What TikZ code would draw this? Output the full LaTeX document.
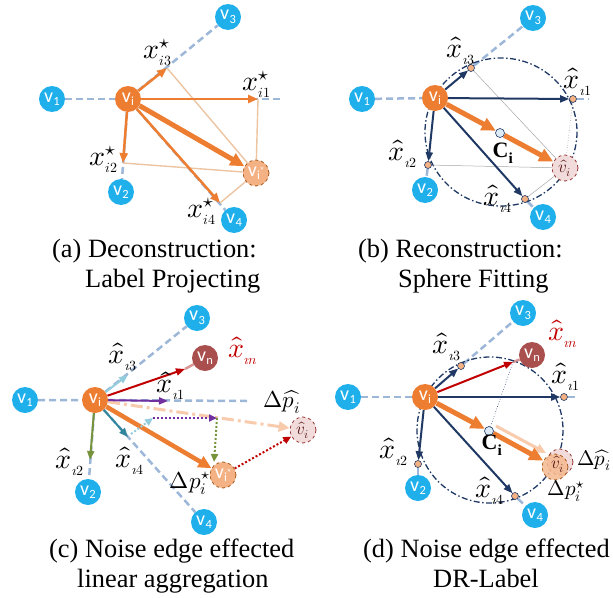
\documentclass[tikz,border=0pt]{standalone}
\usepackage{fontspec}
\usepackage{unicode-math}
\setmainfont{Liberation Serif}
\setmathfont{Latin Modern Math}
\newfontfamily\nodefont{Carlito}
\usetikzlibrary{arrows.meta,calc}
\pgfdeclarelayer{bg}
\pgfdeclarelayer{mid}
\pgfsetlayers{bg,mid,main}
\definecolor{nblue}{HTML}{1FB0EC}
\definecolor{orng}{HTML}{ED7D31}
\definecolor{lorng}{HTML}{F4B183}
\definecolor{dorng}{HTML}{A65A1E}
\definecolor{peach}{HTML}{F8CBAD}
\definecolor{thinp}{HTML}{EDC4A2}
\definecolor{navy}{HTML}{1F3864}
\definecolor{lblue}{HTML}{9DB7D8}
\definecolor{pinkf}{HTML}{F2DCDB}
\definecolor{dred}{HTML}{953735}
\definecolor{vnc}{HTML}{A9504E}
\definecolor{myred}{HTML}{C00000}
\definecolor{mypurple}{HTML}{7030A0}
\definecolor{myteal}{HTML}{31859C}
\definecolor{mygreen}{HTML}{77933C}
\definecolor{skyb}{HTML}{93CDDD}
\definecolor{pinkl}{HTML}{D99694}
\definecolor{cfill}{HTML}{DDEBF7}
\newcommand\vlab[1]{{\fontsize{20}{20}\selectfont v\kern0.3pt\raisebox{-3.5pt}{\fontsize{12.5}{12.5}\selectfont #1}}}
\newcommand\vst{{\fontsize{20}{20}\selectfont v\kern0.3pt\raisebox{-3.5pt}{\fontsize{12.5}{12.5}\selectfont i}\raisebox{6pt}{\fontsize{8}{8}\selectfont$\star$}}}
\newcommand\xh[1]{$\hat{x}_{\scriptscriptstyle #1}$}
\newcommand\xs[1]{$x^{\star}_{\scriptscriptstyle #1}$}
\tikzset{
  vnode/.style={circle, fill=nblue, minimum size=26pt, inner sep=0pt, text=white, font=\nodefont},
  inode/.style={vnode, fill=orng},
  nnode/.style={vnode, fill=vnc},
  snode/.style={circle, fill=lorng, draw=dorng, dashed, line width=0.8pt, minimum size=26pt, inner sep=0pt, text=white, font=\nodefont},
  hnode/.style={circle, fill=pinkf, draw=dred, dashed, line width=0.8pt, minimum size=26pt, inner sep=0pt, text=dred!60!black, font=\fontsize{17}{17}\selectfont},
  pnode/.style={circle, fill=lorng, draw=navy, line width=0.6pt, minimum size=7pt, inner sep=0pt},
  cnode/.style={circle, fill=cfill, draw=navy, line width=0.6pt, minimum size=9pt, inner sep=0pt},
  gline/.style={lblue, line width=2.5pt, dash pattern=on 7pt off 4pt},
  thinl/.style={thinp, line width=1.4pt},
  grayl/.style={gray!70, line width=0.5pt},
  narr/.style={navy, line width=2pt, -{Triangle[length=9pt,width=7pt]}},
  oarr/.style={orng, line width=2.5pt, -{Triangle[length=10pt,width=8pt]}},
  obig/.style={orng, line width=5pt, -{Triangle[length=14pt,width=13pt]}},
  carr/.style={line width=2pt, -{Triangle[length=9pt,width=7pt]}},
  darr/.style={line width=2pt, dotted, -{Triangle[length=8pt,width=7pt]}},
  ddc/.style={navy, line width=1.3pt, dash pattern=on 6pt off 2.5pt on 1.5pt off 2.5pt},
  lab/.style={font=\fontsize{28}{28}\selectfont, inner sep=0pt},
  dlab/.style={font=\fontsize{23}{23}\selectfont, inner sep=0pt},
  captxt/.style={font=\fontsize{26.4}{30}\selectfont, inner sep=0pt, anchor=base west}
}
\begin{document}
\begin{tikzpicture}[x=1pt,y=-1pt]
\useasboundingbox (0,0) rectangle (613,597);
% ================= (a) =================
\node[vnode] (a1) at (52,99) {\vlab{1}};
\node[inode] (ai) at (128,99) {\vlab{i}};
\node[vnode] (a3) at (228,17) {\vlab{3}};
\node[vnode] (a2) at (121,192) {\vlab{2}};
\node[vnode] (a4) at (234,220) {\vlab{4}};
\node[snode] (as) at (256,173) {\vst};
\coordinate (ap1) at (258,99);
\coordinate (ap3) at (167,68);
\coordinate (ap2) at (123,163);
\coordinate (ap4) at (220,203);
\coordinate (ae1) at (281,99);
\begin{pgfonlayer}{bg}
\draw[gline] (a1) -- (ai) -- (ae1);
\draw[gline] (ai) -- (a3);
\draw[gline] (ai) -- (a2);
\draw[gline] (ai) -- (a4);
\draw[thinl] (ap3) -- (as);
\draw[thinl] (ap1) -- (as);
\draw[thinl] (ap2) -- (as);
\draw[thinl] (ap4) -- (as);
\end{pgfonlayer}
\begin{pgfonlayer}{mid}
\draw[oarr] (ai) -- (ap3);
\draw[oarr] (ai) -- (ap1);
\draw[oarr] (ai) -- (ap2);
\draw[oarr] (ai) -- (ap4);
\draw[obig] (ai) -- (as);
\end{pgfonlayer}
\node[lab] (la3) at (158,52) {\xs{i3}};
\node[lab] (la1) at (257,84) {\xs{i1}};
\node[lab] (la2) at (104,159) {\xs{i2}};
\node[lab] (la4) at (202,211) {\xs{i4}};
\node[captxt] (ca1) at (52,257) {(a) Deconstruction:};
\node[captxt] (ca2) at (85,287) {Label Projecting};
% ================= (b) =================
\node[vnode] (b1) at (362,99) {\vlab{1}};
\node[inode] (bi) at (435,98) {\vlab{i}};
\node[vnode] (b3) at (533,18) {\vlab{3}};
\node[vnode] (b2) at (425,190) {\vlab{2}};
\node[vnode] (b4) at (543,217) {\vlab{4}};
\node[hnode] (bh) at (565,168) {$\hat{v}_i$};
\node[cnode] (bc) at (500,133) {};
\node[pnode] (bp3) at (471,68) {};
\node[pnode] (bp1) at (573,99) {};
\node[pnode] (bp2) at (428,165) {};
\node[pnode] (bp4) at (525,199) {};
\coordinate (be1) at (588,99);
\begin{pgfonlayer}{bg}
\draw[gline] (b1) -- (bi);
\draw[gline] (bp1) -- (be1);
\draw[gline] (bp3) -- (b3);
\draw[gline] (bp2) -- (b2);
\draw[gline] (bp4) -- (b4);
\draw[ddc] (501,132) ellipse[x radius=76, y radius=74];
\draw[grayl] (bp3) -- (bh);
\draw[grayl, dotted, line width=0.8pt] (bp1) -- (bh);
\draw[grayl] (bp2) -- (bh);
\draw[grayl] (bp4) -- (bh);
\end{pgfonlayer}
\begin{pgfonlayer}{mid}
\draw[narr] (bi) -- (bp3);
\draw[narr] (bi) -- (bp1);
\draw[narr] (bi) -- (bp2);
\draw[narr] (bi) -- (bp4);
\draw[obig] (bi) -- (bc);
\draw[obig] (bc) -- (bh);
\end{pgfonlayer}
\node[lab] (lb3) at (461,51) {\xh{\imath3}};
\node[lab] (lb1) at (578,82) {\xh{\imath1}};
\node[lab] (lb2) at (403,154) {\xh{\imath2}};
\node[lab] (lb4) at (498,199) {\xh{\imath4}};
\node[lab, font=\fontsize{22}{22}\selectfont] (lbc) at (503,153) {$\mathbf{C}_{\mathbf{i}}$};
\node[captxt] (cb1) at (358,257) {(b) Reconstruction:};
\node[captxt] (cb2) at (398,287) {Sphere Fitting};
% ================= (c) =================
\node[vnode] (c1) at (25,400) {\vlab{1}};
\node[inode] (ci) at (95,400) {\vlab{i}};
\node[vnode] (c3) at (197,318) {\vlab{3}};
\node[nnode] (cn) at (205,358) {\vlab{n}};
\node[vnode] (c2) at (88,492) {\vlab{2}};
\node[vnode] (c4) at (204,522) {\vlab{4}};
\node[snode] (cs) at (223,475) {\vst};
\node[hnode] (ch) at (303,430) {$\hat{v}_i$};
\coordinate (ce3) at (128,375);
\coordinate (cen) at (185,369);
\coordinate (ce1) at (168,401);
\coordinate (ce4) at (128,437);
\coordinate (ce2) at (90,460);
\coordinate (cx1) at (247,401);
\coordinate (cq1) at (131,434);
\coordinate (cq2) at (153,418);
\coordinate (cq3) at (217,418);
\coordinate (cq4) at (214,462);
\begin{pgfonlayer}{bg}
\draw[gline] (c1) -- (ci) -- (cx1);
\draw[gline] (ci) -- (c3);
\draw[gline] (ci) -- (c4);
\draw[gline] (ci) -- (c2);
\draw[pinkl, line width=2.5pt] (cen) -- (cn);
\end{pgfonlayer}
\begin{pgfonlayer}{mid}
\draw[peach, line width=3pt, dash pattern=on 12pt off 4pt on 3pt off 4pt, -{Triangle[length=11pt,width=10pt]}] (ci) -- (ch);
\draw[carr, skyb] (ci) -- (ce3);
\draw[carr, myred] (ci) -- (cen);
\draw[carr, mypurple] (ci) -- (ce1);
\draw[carr, myteal] (ci) -- (ce4);
\draw[carr, mygreen] (ci) -- (ce2);
\draw[orng, line width=4.5pt, -{Triangle[length=13pt,width=12pt]}] (ci) -- (cs);
\draw[darr, skyb] (cq1) -- (cq2);
\draw[darr, mypurple] (cq2) -- (cq3);
\draw[darr, mygreen] (cq3) -- (cq4);
\draw[darr, myred] (cs) -- (ch);
\end{pgfonlayer}
\node[lab] (lc3) at (123,357) {\xh{\imath3}};
\node[lab, text=myred] (lcn) at (243,351) {\xh{\imath n}};
\node[lab] (lc1) at (171,386) {\xh{\imath1}};
\node[dlab] (lcp) at (282,402) {$\Delta\widehat{p_i}$};
\node[lab] (lc4) at (130,461) {\xh{\imath4}};
\node[lab] (lc2) at (70,462) {\xh{\imath2}};
\node[dlab] (lcs) at (190,483) {$\Delta p_i^{\star}$};
\node[captxt] (cc1) at (49,557) {(c) Noise edge effected};
\node[captxt] (cc2) at (77,587) {linear aggregation};
% ================= (d) =================
\node[vnode] (d1) at (348,397) {\vlab{1}};
\node[inode] (di) at (425,397) {\vlab{i}};
\node[vnode] (d3) at (523,313) {\vlab{3}};
\node[nnode] (dn) at (532,355) {\vlab{n}};
\node[vnode] (d2) at (418,488) {\vlab{2}};
\node[vnode] (d4) at (535,515) {\vlab{4}};
\node[hnode] (dh) at (560,462) {};
\node[snode, fill=lorng!90!white, fill opacity=0.85, text opacity=1] (ds) at (555,467) {};
\node[text=dred!60!black, font=\fontsize{17}{17}\selectfont, inner sep=0pt] (dht) at (558,464) {$\hat{v}_i$};
\node[cnode] (dc) at (489,431) {};
\node[pnode] (dp3) at (461,366) {};
\node[pnode] (dp1) at (564,397) {};
\node[pnode] (dp2) at (418,464) {};
\node[pnode] (dp4) at (515,496) {};
\coordinate (den) at (513,362);
\coordinate (de1) at (578,397);
\begin{pgfonlayer}{bg}
\draw[gline] (d1) -- (di);
\draw[gline] (dp1) -- (de1);
\draw[gline] (dp3) -- (d3);
\draw[gline] (dp2) -- (d2);
\draw[gline] (dp4) -- (d4);
\draw[pinkl, line width=2.5pt] (den) -- (dn);
\draw[ddc] (490,430) circle[radius=73];
\draw[navy, line width=0.6pt, dotted] (dc) -- (den);
\draw[peach, line width=3pt, -{Triangle[length=10pt,width=9pt]}] ($(dc)+(7,-5)$) -- ($(dh)+(-14,-9)$);
\end{pgfonlayer}
\begin{pgfonlayer}{mid}
\draw[carr, myred] (di) -- (den);
\draw[narr] (di) -- (dp3);
\draw[narr] (di) -- (dp1);
\draw[narr] (di) -- (dp2);
\draw[narr] (di) -- (dp4);
\draw[obig] (di) -- (dc);
\draw[obig] (dc) -- (ds);
\end{pgfonlayer}
\node[lab, text=myred] (ldn) at (563,334) {\xh{\imath n}};
\node[lab] (ld3) at (447,347) {\xh{\imath3}};
\node[lab] (ld1) at (566,377) {\xh{\imath1}};
\node[lab] (ld2) at (394,452) {\xh{\imath2}};
\node[lab] (ld4) at (490,491) {\xh{\imath4}};
\node[lab, font=\fontsize{22}{22}\selectfont] (ldc) at (492,445) {$\mathbf{C}_{\mathbf{i}}$};
\node[dlab, font=\fontsize{21}{21}\selectfont] (ldp) at (594,460) {$\Delta\widehat{p_i}$};
\node[dlab, font=\fontsize{21}{21}\selectfont] (lds) at (566,491) {$\Delta p_i^{\star}$};
\node[captxt] (cd1) at (363,557) {(d) Noise edge effected};
\node[captxt] (cd2) at (433,587) {DR-Label};
\end{tikzpicture}
\end{document}
